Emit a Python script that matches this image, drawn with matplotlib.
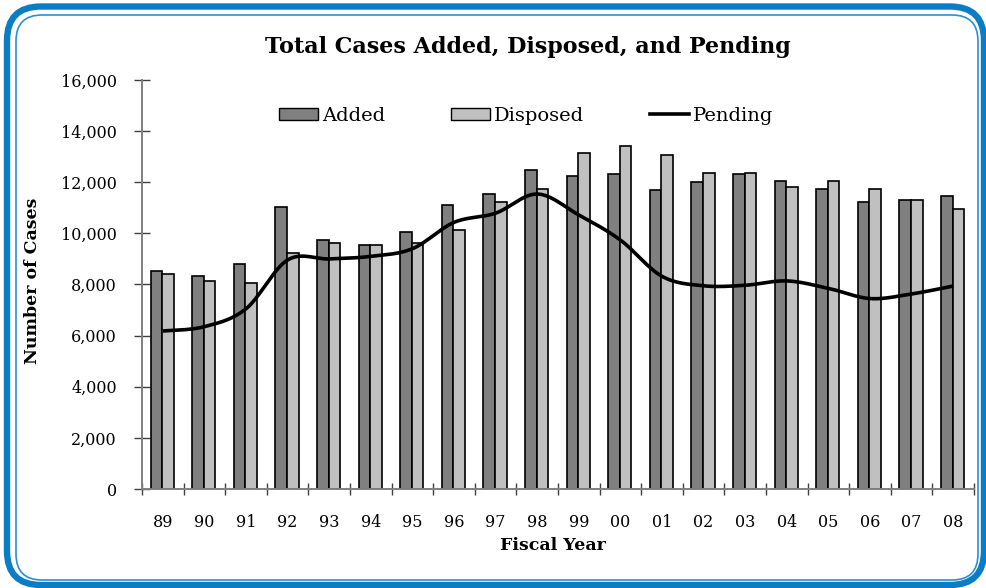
import matplotlib
matplotlib.use("Agg")
import matplotlib.pyplot as plt
import numpy as np
from matplotlib.patches import FancyBboxPatch, Patch
from matplotlib.lines import Line2D
from matplotlib.transforms import IdentityTransform
from matplotlib.ticker import FuncFormatter

years = ["89", "90", "91", "92", "93", "94", "95", "96", "97", "98",
         "99", "00", "01", "02", "03", "04", "05", "06", "07", "08"]
added = [8530, 8350, 8790, 11020, 9740, 9550, 10070, 11110, 11550, 12490,
         12260, 12340, 11680, 12010, 12320, 12050, 11750, 11230, 11300, 11480]
disposed = [8400, 8150, 8070, 9250, 9630, 9550, 9640, 10130, 11230, 11750,
            13160, 13400, 13080, 12380, 12380, 11800, 12050, 11750, 11300, 10970]
pending = [6180, 6350, 7050, 8960, 9000, 9100, 9400, 10430, 10790, 11540,
           10720, 9740, 8320, 7950, 7970, 8140, 7850, 7450, 7630, 7940]

plt.rcParams['font.family'] = ['DejaVu Serif']


def smooth(x, y, n=30):
    # bezier through every point, control points from neighbours
    x = np.asarray(x, float)
    y = np.asarray(y, float)
    px = np.concatenate([[x[0]], x, [x[-1]]])
    py = np.concatenate([[y[0]], y, [y[-1]]])
    xs, ys = [], []
    t = np.linspace(0, 1, n)
    for i in range(1, len(px) - 2):
        p0 = np.array([px[i], py[i]])
        p3 = np.array([px[i + 1], py[i + 1]])
        p1 = p0 + (np.array([px[i + 1], py[i + 1]]) - np.array([px[i - 1], py[i - 1]])) / 6
        p2 = p3 - (np.array([px[i + 2], py[i + 2]]) - np.array([px[i], py[i]])) / 6
        b = ((1 - t) ** 3)[:, None] * p0 + (3 * (1 - t) ** 2 * t)[:, None] * p1 \
            + (3 * (1 - t) * t ** 2)[:, None] * p2 + (t ** 3)[:, None] * p3
        xs.extend(b[:, 0])
        ys.extend(b[:, 1])
    return xs, ys


fig = plt.figure(figsize=(9.87, 5.88), dpi=100)
ax = fig.add_axes([142 / 987, 1 - 489 / 588, 832 / 987, 409 / 588])

x = np.arange(len(years))
w = 0.28
ax.bar(x - 0.155, added, w, color='#808080', edgecolor='black', linewidth=1.2, zorder=2)
ax.bar(x + 0.125, disposed, w, color='#c0c0c0', edgecolor='black', linewidth=1.2, zorder=2)
sx, sy = smooth(x, pending)
ax.plot(sx, sy, color='black', linewidth=2.6, zorder=3, solid_capstyle='butt')

ax.set_xlim(-0.5, len(years) - 0.5)
ax.set_ylim(0, 16000)
ax.set_yticks(np.arange(0, 16001, 2000))
ax.yaxis.set_major_formatter(FuncFormatter(lambda v, p: f"{int(v):,}"))
ax.set_xticks(np.arange(-0.5, len(years), 1.0))
ax.set_xticklabels([])
ax.set_xticks(x, minor=True)
ax.set_xticklabels(years, minor=True)

for s in ['top', 'right']:
    ax.spines[s].set_visible(False)
for s in ['left', 'bottom']:
    ax.spines[s].set_color('#808080')
    ax.spines[s].set_linewidth(1.4)

ax.tick_params(axis='y', direction='inout', length=11, width=1, color='#404040',
               pad=12.5, labelsize=11.5)
ax.tick_params(axis='x', which='major', direction='inout', length=9, width=1, color='#404040')
ax.tick_params(axis='x', which='minor', length=0, pad=18, labelsize=11.5)

handles = [Patch(facecolor='#808080', edgecolor='black', linewidth=1.0),
           Patch(facecolor='#c0c0c0', edgecolor='black', linewidth=1.0),
           Line2D([], [], color='black', linewidth=2.6)]
ax.legend(handles, ['Added', 'Disposed', 'Pending'], ncol=3, loc='center',
          bbox_to_anchor=(0.462, 0.912), frameon=False, fontsize=14,
          handlelength=2.0, handletextpad=0.2, columnspacing=3.4, handleheight=0.6)

fig.text(528 / 987, 1 - 47 / 588, 'Total Cases Added, Disposed, and Pending',
         ha='center', va='center', fontsize=16, fontweight='bold')
fig.text(33 / 987, 1 - 281 / 588, 'Number of Cases', rotation=90,
         ha='center', va='center', fontsize=12.5, fontweight='bold')
fig.text(553 / 987, 1 - 546 / 588, 'Fiscal Year',
         ha='center', va='center', fontsize=12.5, fontweight='bold')

# rounded blue frame, pixel coordinates
H = 588
outer = FancyBboxPatch((7, H - 585), 977, 578.5, boxstyle='round,pad=0,rounding_size=34',
                       transform=IdentityTransform(), fill=False,
                       edgecolor='#0b7dc4', linewidth=4.6)
inner = FancyBboxPatch((16, H - 580), 962, 565, boxstyle='round,pad=0,rounding_size=26',
                       transform=IdentityTransform(), fill=False,
                       edgecolor='#2b8fd2', linewidth=1.2)
fig.patches.extend([outer, inner])

fig.savefig('out.png', dpi=100)
